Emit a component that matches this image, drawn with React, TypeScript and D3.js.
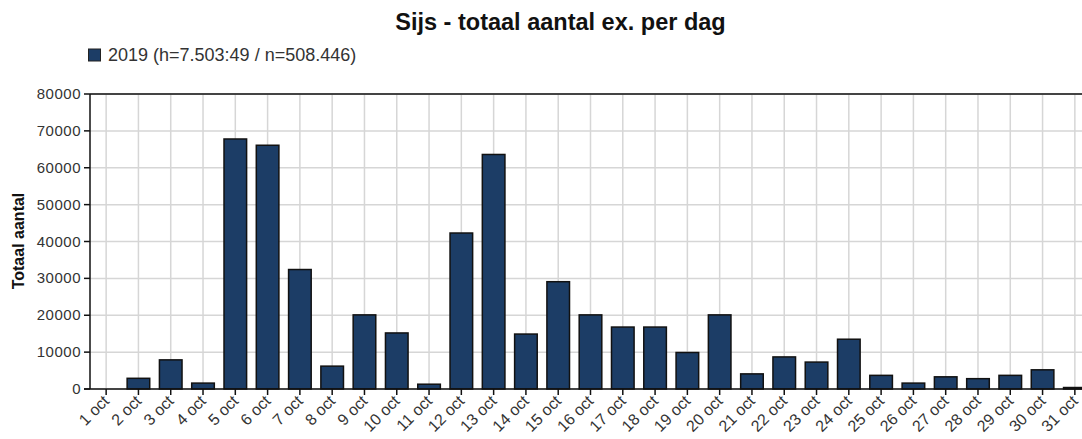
import React from "react";
import * as d3 from "d3";

const categories: string[] = Array.from({ length: 31 }, (_, i) => `${i + 1} oct`);
const values2019: number[] = [
  0, 2900, 7900, 1600, 67800, 66100, 32400, 6200, 20100, 15200, 1300, 42300, 63600,
  14900, 29100, 20100, 16800, 16800, 9900, 20100, 4100, 8700, 7300, 13500, 3700, 1600,
  3300, 2800, 3700, 5200, 400,
];
const yTicks: number[] = [0, 10000, 20000, 30000, 40000, 50000, 60000, 70000, 80000];
const title = "Sijs - totaal aantal ex. per dag";
const legendLabel = "2019 (h=7.503:49 / n=508.446)";
const yAxisTitle = "Totaal aantal";

const W = 1082;
const H = 439;
const left = 90;
const right = 1091;
const top = 94;
const bottom = 389;
const barColor = "#1c3d66";
const font = "'Liberation Sans', Arial, sans-serif";

export default function App() {
  const x = d3.scaleBand<string>().domain(categories).range([left, right]).paddingInner(0.3).paddingOuter(0.15);
  const xc = (c: string) => (x(c) as number) + x.bandwidth() / 2;
  const y = d3.scaleLinear().domain([0, 80000]).range([bottom, top]);

  return (
    <svg width={W} height={H} style={{ position: "absolute", left: 0, top: 0, background: "#fff" }} fontFamily={font}>
      <text x={560.5} y={30} textAnchor="middle" fontSize={23.5} fontWeight="bold" fill="#111">{title}</text>
      <rect x={88.5} y={49} width={12} height={12} fill={barColor} stroke="#222" strokeWidth={1} />
      <text x={108} y={60.5} fontSize={18} fill="#333">{legendLabel}</text>

      {/* grid */}
      {yTicks.map((t) => (
        <line key={"gy" + t} x1={left} x2={right} y1={y(t)} y2={y(t)} stroke="#d6d6d6" strokeWidth={1.5} />
      ))}
      {categories.map((c) => (
        <line key={"gx" + c} x1={xc(c)} x2={xc(c)} y1={top} y2={bottom} stroke="#d6d6d6" strokeWidth={1.5} />
      ))}

      {/* bars */}
      {categories.map((c, i) => {
        const v = values2019[i];
        if (v <= 0) return null;
        return (
          <rect key={"b" + c} x={x(c)} y={y(v)} width={x.bandwidth()} height={bottom - y(v)}
            fill={barColor} stroke="#111" strokeWidth={1.5} />
        );
      })}

      {/* axes */}
      <line x1={left} x2={right} y1={top} y2={top} stroke="#111" strokeWidth={1.5} />
      <line x1={left} x2={left} y1={top} y2={bottom} stroke="#111" strokeWidth={1.5} />
      <line x1={right} x2={right} y1={top} y2={bottom} stroke="#111" strokeWidth={1.5} />
      <line x1={left - 6} x2={right} y1={bottom} y2={bottom} stroke="#111" strokeWidth={1.5} />

      {yTicks.map((t) => (
        <g key={"yt" + t}>
          <line x1={left - 6} x2={left} y1={y(t)} y2={y(t)} stroke="#111" strokeWidth={1.5} />
          <text x={left - 9} y={y(t) + 5} textAnchor="end" fontSize={15} letterSpacing={0.5} fill="#333">{t}</text>
        </g>
      ))}
      {categories.map((c) => (
        <g key={"xt" + c}>
          <line x1={xc(c)} x2={xc(c)} y1={bottom} y2={bottom + 6} stroke="#111" strokeWidth={1.5} />
          <text transform={`translate(${xc(c) + 4},${bottom + 13}) rotate(-45)`} textAnchor="end" fontSize={16} fill="#333">{c}</text>
        </g>
      ))}

      <text transform={`translate(24,241) rotate(-90)`} textAnchor="middle" fontSize={16} fontWeight="bold" fill="#111">{yAxisTitle}</text>
    </svg>
  );
}
